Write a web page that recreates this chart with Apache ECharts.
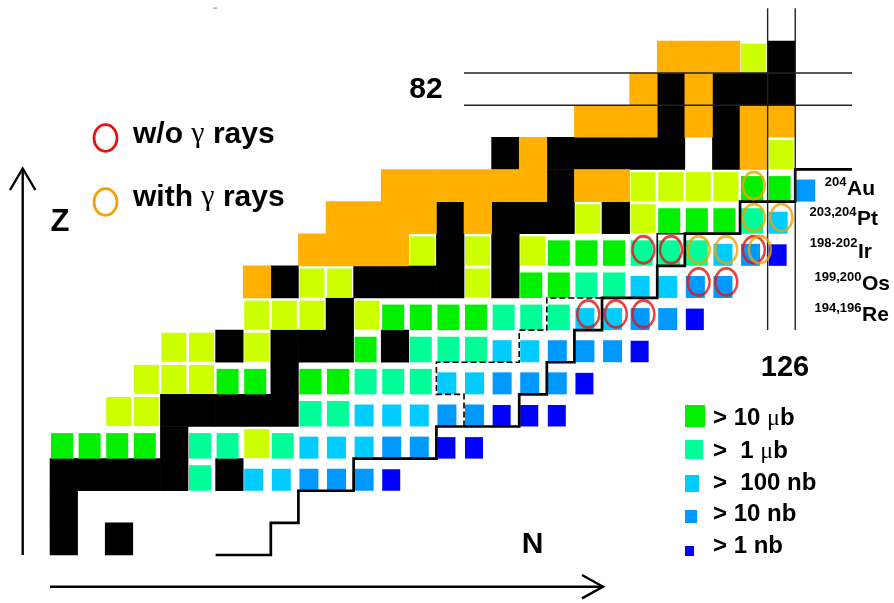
<!DOCTYPE html>
<html>
<head>
<meta charset="utf-8">
<script src="https://cdn.jsdelivr.net/npm/echarts@6/dist/echarts.min.js"></script>
<style>
  html, body { margin: 0; padding: 0; background: #fff; }
  #chart { width: 894px; height: 603px; }
</style>
</head>
<body>
<div id="chart"></div>
<script>
// Nuclide cells as [N, Z] pairs, one array per class.
const stable = [
  [100,68],[102,68],[100,69],
  [100,70],[101,70],[102,70],[103,70],[104,70],[106,70],
  [104,71],[104,72],[105,72],[106,72],[107,72],[108,72],[108,73],
  [106,74],[108,74],[109,74],[110,74],[112,74],[110,75],
  [108,76],[111,76],[112,76],[113,76],[114,76],[116,76],
  [114,77],[116,77],[114,78],[116,78],[117,78],[118,78],[120,78],[118,79],
  [116,80],[118,80],[119,80],[120,80],[121,80],[122,80],[124,80],
  [122,81],[124,81],[122,82],[124,82],[125,82],[126,82],[126,83]
];
const knownOrange = [
  [107,76],[109,77],[110,77],[111,77],[112,77],
  [110,78],[111,78],[112,78],[113,78],[115,78],
  [112,79],[113,79],[114,79],[115,79],[116,79],[117,79],[119,79],[120,79],
  [117,80],[125,80],[119,81],[120,81],[121,81],[123,81],[125,81],[126,81],
  [121,82],[123,82],[122,83],[123,83],[124,83]
];
const knownLime = [
  [107,71],[102,72],[103,72],[103,73],[104,73],[105,73],
  [104,74],[105,74],[107,74],[107,75],[108,75],[109,75],[111,75],
  [109,76],[110,76],[115,76],[113,77],[115,77],[117,77],
  [119,78],[121,78],[121,79],[122,79],[123,79],[124,79],[126,80],[125,83]
];
// Production cross-section classes
const over10ub = [
  [100,71],[101,71],[102,71],[103,71],[106,73],[107,73],[109,73],[110,73],
  [111,74],[112,75],[113,75],[114,75],[115,75],[117,76],[118,76],
  [118,77],[119,77],[120,77],[122,78],[123,78],[124,78],[125,79],[126,79]
];
const over1ub = [
  [105,70],[105,71],[106,71],[108,71],[109,72],[110,72],[111,73],[112,73],[113,73],
  [113,74],[114,74],[115,74],[116,75],[117,75],[118,75],[119,76],[120,76],
  [121,77],[122,77],[123,77],[125,78]
];
const over100nb = [
  [107,70],[108,70],[109,71],[110,71],[111,71],[111,72],[112,72],[113,72],
  [114,73],[115,73],[116,74],[117,74],[119,75],[120,75],[121,76],[122,76],
  [124,77],[126,78]
];
const over10nb = [
  [109,70],[110,70],[111,70],[112,71],[113,71],[114,72],[115,72],
  [116,73],[117,73],[118,73],[118,74],[119,74],[120,74],[121,75],[122,75],
  [123,76],[124,76],[125,77],[127,79]
];
const over1nb = [
  [112,70],[114,71],[115,71],[116,72],[117,72],[118,72],[119,73],[121,74],[123,75],[126,77]
];
// Nuclides marked for isomer search
const noGamma = [[119,75],[120,75],[121,75],[123,76],[124,76],[121,77],[122,77],[125,77]];
const withGamma = [[123,77],[124,77],[125,77],[125,78],[126,78],[125,79]];

// Boundary lines in (N, Z) cell-edge coordinates
const knownEdge = [
  [105.5,67.5],[107.5,67.5],[107.5,68.5],[108.5,68.5],[108.5,69.5],[110.5,69.5],
  [110.5,70.5],[113.5,70.5],[113.5,71.5],[116.5,71.5],[116.5,72.5],[117.5,72.5],
  [117.5,73.5],[118.5,73.5],[118.5,74.5],[119.5,74.5],[119.5,75.5],[121.5,75.5],
  [121.5,76.5],[122.5,76.5],[122.5,77.5],[124.5,77.5],[124.5,78.5],[126.5,78.5],
  [126.5,79.5],[128.56,79.5]
];
const earlierEdge = [
  [114.5,71.5],[114.5,72.5],[113.5,72.5],[113.5,73.5],[116.5,73.5],[116.5,74.5],
  [117.5,74.5],[117.5,75.5],[119.5,75.5]
];
const earlierEdge2 = [[121.5,76.5],[121.5,77.5],[122.5,77.5]];
const magicZ = 82, magicN = 126;
const rowLabels = [
  { sup: '204', el: 'Au', x: 847, y: 189.5, sy: 182 },
  { sup: '203,204', el: 'Pt', x: 857, y: 219.5, sy: 212.5 },
  { sup: '198-202', el: 'Ir', x: 858, y: 252.5, sy: 243.5 },
  { sup: '199,200', el: 'Os', x: 862, y: 284, sy: 277.5 },
  { sup: '194,196', el: 'Re', x: 862, y: 315.5, sy: 308.5 }
];
const sizeLegend = [
  { text: '{a|> 10 }{m|μ}{a|b}', color: '#00F000', w: 20, h: 22, y: 405, ty: 418.7 },
  { text: '{a|>  1 }{m|μ}{a|b}', color: '#00FF99', w: 18, h: 19, y: 440, ty: 451.7 },
  { text: '{a|>  100 nb}', color: '#00CCFF', w: 14, h: 17, y: 475, ty: 483.7 },
  { text: '{a|> 10 nb}', color: '#0099FF', w: 12, h: 13, y: 510, ty: 514.7 },
  { text: '{a|> 1 nb}', color: '#0000FF', w: 9, h: 10, y: 546, ty: 546.7 }
];

const SANS = '"Liberation Sans", Arial, Helvetica, sans-serif';
const SERIF = '"Liberation Serif", "Times New Roman", serif';

function cellSeries(name, data, color, box, z) {
  return {
    type: 'custom', name, data, encode: { x: 0, y: 1 }, clip: false, silent: true, z: z || 2,
    renderItem(params, api) {
      const n = api.value(0), zz = api.value(1);
      const p = api.coord([n - 0.5, zz - 0.5]);
      const s = api.size([1, 1]);
      let shape;
      if (!box) {
        shape = { x: p[0] - 0.3, y: p[1] - s[1] - 0.3, width: s[0] + 0.6, height: s[1] + 0.6 };
      } else {
        shape = { x: p[0] + box.dx, y: p[1] - box.dy - box.h, width: box.w, height: box.h };
      }
      return { type: 'rect', shape, style: { fill: color } };
    }
  };
}

function pathSeries(data, width, color, dash, z) {
  return {
    type: 'line', data, symbol: 'none', showSymbol: false, silent: true, clip: false,
    z: z || 5,
    lineStyle: { width, color, type: dash || 'solid', cap: 'butt', join: 'miter' }
  };
}

const same = (a, b) => a[0] === b[0] && a[1] === b[1];
const withGammaItems = withGamma.map(p =>
  noGamma.some(q => same(p, q)) ? { value: p, symbolOffset: [6, 0] } : p
);

const series = [
  cellSeries('stable', stable, '#000000', null, 1),
  cellSeries('known', knownOrange, '#FFB000', null, 1),
  cellSeries('known (lime)', knownLime, '#CCFF00', { dx: 1, dy: 0.5, w: 25, h: 29 }),
  cellSeries('> 10 μb', over10ub, '#00F000', { dx: 1, dy: 0, w: 22, h: 25.5 }),
  cellSeries('> 1 μb', over1ub, '#00FF99', { dx: 1, dy: 0, w: 22, h: 25.5 }),
  cellSeries('> 100 nb', over100nb, '#00CCFF', { dx: 1, dy: 0, w: 19, h: 22 }),
  cellSeries('> 10 nb', over10nb, '#0099FF', { dx: 1, dy: 0, w: 19, h: 22 }),
  cellSeries('> 1 nb', over1nb, '#0000FF', { dx: 1, dy: 0, w: 18, h: 21.5 }),
  {
    type: 'scatter', name: 'w/o γ rays', data: noGamma, symbol: 'circle', symbolSize: [22, 27],
    silent: true, z: 6,
    itemStyle: { color: 'rgba(0,0,0,0)', borderColor: '#E81010', borderWidth: 2.6 }
  },
  {
    type: 'scatter', name: 'with γ rays', data: withGammaItems, symbol: 'circle', symbolSize: [22, 27],
    silent: true, z: 7,
    itemStyle: { color: 'rgba(0,0,0,0)', borderColor: '#F5A000', borderWidth: 2.6 }
  },
  pathSeries(knownEdge, 2.7, '#000'),
  pathSeries(earlierEdge, 1.6, '#000', [6, 3]),
  pathSeries(earlierEdge2, 1.6, '#000'),
  // magic-number shell lines
  pathSeries([[114.5, magicZ - 0.5], [128.56, magicZ - 0.5]], 1.4, '#222'),
  pathSeries([[114.5, magicZ + 0.5], [128.56, magicZ + 0.5]], 1.4, '#222'),
  pathSeries([[magicN - 0.5, 74.5], [magicN - 0.5, 84.52]], 1.4, '#222'),
  pathSeries([[magicN + 0.5, 74.5], [magicN + 0.5, 84.52]], 1.4, '#222')
];

const graphic = [
  // axis arrows
  { type: 'polyline', shape: { points: [[50, 586.7], [603, 586.7]] }, style: { stroke: '#000', lineWidth: 2.4, fill: null } },
  { type: 'polyline', shape: { points: [[582, 575], [603, 586.7], [582, 598.4]] }, style: { stroke: '#000', lineWidth: 2.4, fill: null } },
  { type: 'polyline', shape: { points: [[22.7, 555], [22.7, 169]] }, style: { stroke: '#000', lineWidth: 2.4, fill: null } },
  { type: 'polyline', shape: { points: [[10, 190], [22.7, 168.5], [35.4, 190]] }, style: { stroke: '#000', lineWidth: 2.4, fill: null } },
  { type: 'rect', shape: { x: 213, y: 7.5, width: 4, height: 1.2 }, style: { fill: '#999' } },
  // axis titles and magic numbers
  { type: 'text', style: { text: 'Z', x: 60, y: 222, align: 'center', verticalAlign: 'middle', fontFamily: SANS, fontWeight: 'bold', fontSize: 31, fill: '#000' } },
  { type: 'text', style: { text: 'N', x: 532.5, y: 544.6, align: 'center', verticalAlign: 'middle', fontFamily: SANS, fontWeight: 'bold', fontSize: 30, fill: '#000' } },
  { type: 'text', style: { text: String(magicZ), x: 426, y: 89.6, align: 'center', verticalAlign: 'middle', fontFamily: SANS, fontWeight: 'bold', fontSize: 30, fill: '#000' } },
  { type: 'text', style: { text: String(magicN), x: 785, y: 368, align: 'center', verticalAlign: 'middle', fontFamily: SANS, fontWeight: 'bold', fontSize: 29, fill: '#000' } },
  // ring legend
  { type: 'ellipse', shape: { cx: 105.5, cy: 138, rx: 11.5, ry: 13.3 }, style: { fill: null, stroke: '#E81010', lineWidth: 2.8 } },
  { type: 'ellipse', shape: { cx: 105.5, cy: 202, rx: 11.5, ry: 13.3 }, style: { fill: null, stroke: '#F5A000', lineWidth: 2.8 } },
  { type: 'text', style: { text: '{a|w/o }{g|γ}{a| rays}', x: 133, y: 134.6, verticalAlign: 'middle',
      rich: { a: { fontFamily: SANS, fontWeight: 'bold', fontSize: 30, fill: '#000' }, g: { fontFamily: SERIF, fontSize: 30, fill: '#000' } } } },
  { type: 'text', style: { text: '{a|with }{g|γ}{a| rays}', x: 133, y: 197.6, verticalAlign: 'middle',
      rich: { a: { fontFamily: SANS, fontWeight: 'bold', fontSize: 30, fill: '#000' }, g: { fontFamily: SERIF, fontSize: 30, fill: '#000' } } } }
];

sizeLegend.forEach(it => {
  graphic.push({ type: 'rect', shape: { x: 685, y: it.y, width: it.w, height: it.h }, style: { fill: it.color } });
  graphic.push({ type: 'text', style: { text: it.text, x: 713, y: it.ty, verticalAlign: 'middle',
    rich: { a: { fontFamily: SANS, fontWeight: 'bold', fontSize: 24, fill: '#000' }, m: { fontFamily: SERIF, fontSize: 24, fill: '#000' } } } });
});

rowLabels.forEach(it => {
  graphic.push({ type: 'text', style: { text: it.sup, x: it.x - 0.5, y: it.sy, align: 'right', verticalAlign: 'middle', fontFamily: SANS, fontWeight: 'bold', fontSize: 13, fill: '#000' } });
  graphic.push({ type: 'text', style: { text: it.el, x: it.x, y: it.y, align: 'left', verticalAlign: 'middle', fontFamily: SANS, fontWeight: 'bold', fontSize: 21, fill: '#000' } });
});

const chart = echarts.init(document.getElementById('chart'));
chart.setOption({
  animation: false,
  backgroundColor: '#fff',
  grid: { left: 50, top: 7.2, width: 803.2, height: 547.8, containLabel: false },
  xAxis: { type: 'value', min: 99.5, max: 128.6, show: false },
  yAxis: { type: 'value', min: 67.5, max: 84.55, show: false },
  series,
  graphic
});
</script>
</body>
</html>
